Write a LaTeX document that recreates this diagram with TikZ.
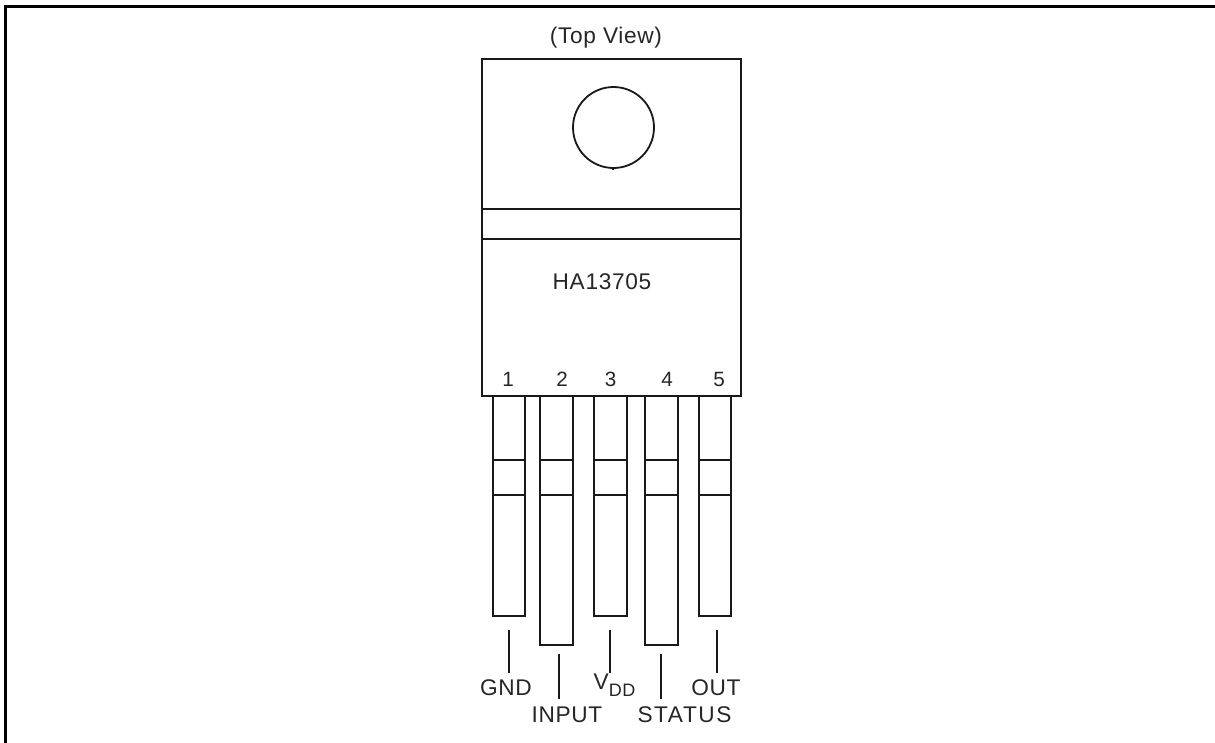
\documentclass[tikz,border=0pt]{standalone}
\usepackage{fontspec}
\setmainfont{Liberation Sans}
\newfontfamily\lblfont[LetterSpace=3]{Liberation Sans}
\newfontfamily\widefont[LetterSpace=7]{Liberation Sans}
\tikzset{
  px/.style={x=0.75pt,y=-0.75pt},
  ln/.style={draw=black!90,line width=1.35pt,line join=miter},
  lbl/.style={font=\lblfont\fontsize{17pt}{18pt}\selectfont,inner sep=0pt,text=black!85},
  wlbl/.style={font=\widefont\fontsize{17pt}{18pt}\selectfont,inner sep=0pt,text=black!85},
  numlbl/.style={font=\fontsize{15.5pt}{16pt}\selectfont,inner sep=0pt,text=black!85},
  lead/.style={draw=black!90,line width=1.35pt}
}
\begin{document}
\begin{tikzpicture}[px]
\useasboundingbox (0,0) rectangle (1215,743);
\fill[white] (0,0) rectangle (1215,743);
\draw[black,line width=2.2pt] (5.5,743) -- (5.5,6.5) -- (1215,6.5);
\draw[ln] (482,59) rectangle (741,396);
\draw[ln] (482,209) -- (741,209);
\draw[ln] (482,239) -- (741,239);
\draw[ln] (613.5,127.5) circle (40.5);
\draw[ln] (613,167) -- (613,170);
\foreach \l/\r/\b in {493/525/616, 540/573/645, 594/627/616, 645/678/645, 699/731/616}{
  \draw[ln] (\l,396) rectangle (\r,\b);
  \draw[ln] (\l,460) -- (\r,460);
  \draw[ln] (\l,495) -- (\r,495);
}
\node[lbl] (top) at (606,38) {(Top View)};
\node[lbl] (part) at (602,282) {HA13705};
\node[numlbl] (n1) at (508,379) {1};
\node[numlbl] (n2) at (562,379) {2};
\node[numlbl] (n3) at (610.5,379) {3};
\node[numlbl] (n4) at (667,379) {4};
\node[numlbl] (n5) at (719,379) {5};
\node[lbl] (gnd) at (506,688) {GND};
\node[lbl] (input) at (567,715) {INPUT};
\node[lbl] (vdd) at (614.5,685) {V\raisebox{-5pt}{\fontsize{13.5pt}{14pt}\selectfont DD}};
\node[wlbl] (status) at (684.5,715) {STATUS};
\node[lbl] (out) at (716,688) {OUT};
\coordinate (a1) at (509,630); \coordinate (a2) at (559,654);
\coordinate (a3) at (610,630); \coordinate (a4) at (661,654);
\coordinate (a5) at (717,630);
\coordinate (b1) at (509,673); \coordinate (b2) at (559,699);
\coordinate (b3) at (610,673); \coordinate (b4) at (661,699);
\coordinate (b5) at (717,673);
\draw[lead] (a1) -- (b1);
\draw[lead] (a2) -- (b2);
\draw[lead] (a3) -- (b3);
\draw[lead] (a4) -- (b4);
\draw[lead] (a5) -- (b5);
\end{tikzpicture}
\end{document}
